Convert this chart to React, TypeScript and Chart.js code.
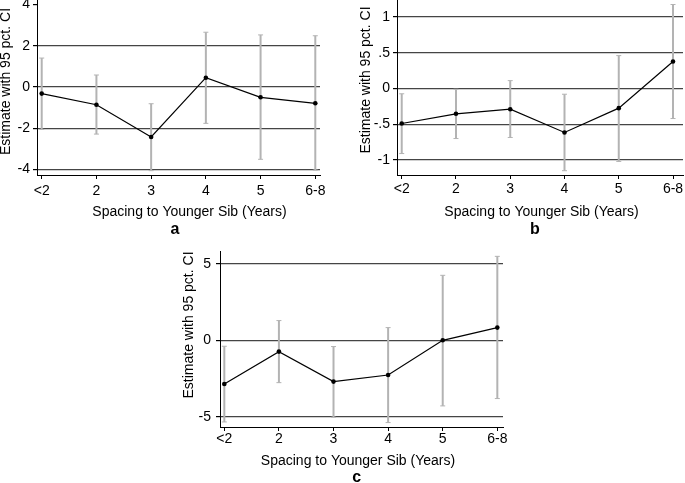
import { useEffect, useRef } from "react"
import { Chart, registerables } from "chart.js"

Chart.register(...registerables)

const FONT = "'Liberation Sans', Arial, Helvetica, sans-serif"
const GRID_COLOR = "#454545"
const ERR_COLOR = "#b3b3b3"

const categories = ["<2", "2", "3", "4", "5", "6-8"]

// panel a
const aEstimate = [-0.32, -0.86, -2.42, 0.45, -0.5, -0.79]
const aLower = [-2.05, -2.28, -4.05, -1.76, -3.5, -4.02]
const aUpper = [1.4, 0.58, -0.81, 2.65, 2.52, 2.48]
const aTicks = [-4, -2, 0, 2, 4]
const aTickLabels = ["-4", "-2", "0", "2", "4"]

// panel b
const bEstimate = [-0.49, -0.354, -0.29, -0.615, -0.275, 0.378]
const bLower = [-0.91, -0.7, -0.685, -1.15, -1.02, -0.42]
const bUpper = [-0.074, -0.01, 0.11, -0.08, 0.46, 1.175]
const bTicks = [-1, -0.5, 0, 0.5, 1]
const bTickLabels = ["-1", "-.5", "0", ".5", "1"]

// panel c
const cEstimate = [-2.86, -0.74, -2.7, -2.27, 0, 0.83]
const cLower = [-5.34, -2.77, -5.03, -5.38, -4.29, -3.81]
const cUpper = [-0.39, 1.29, -0.41, 0.83, 4.25, 5.49]
const cTicks = [-5, 0, 5]
const cTickLabels = ["-5", "0", "5"]

const Y_W = 40
const PAD_TOP = 16
const PAD_RIGHT = 14
const X_H = 66

interface PanelProps {
  letter: string
  estimate: number[]
  lower: number[]
  upper: number[]
  ticks: number[]
  tickLabels: string[]
  noGridAt?: number
  plot: { left: number; top: number; right: number; bottom: number }
  yRange: [number, number]
  xRange: [number, number]
  yTitleAt: [number, number]
  xTitleAt: [number, number]
  letterAt: [number, number]
  xTickPad: number
  yTickPad: number
}

function Panel(p: PanelProps) {
  const chartRef = useRef<HTMLCanvasElement>(null)
  const chartInstance = useRef<Chart | null>(null)

  const left = p.plot.left - Y_W
  const top = p.plot.top - PAD_TOP
  const width = p.plot.right - p.plot.left + Y_W + PAD_RIGHT
  const height = PAD_TOP + p.plot.bottom - p.plot.top + X_H

  useEffect(() => {
    if (!chartRef.current) return
    const ctx = chartRef.current.getContext("2d")
    if (!ctx) return

    if (chartInstance.current) {
      chartInstance.current.destroy()
    }

    // error bars under the line, titles and panel letter on top
    const extras = {
      id: "panelExtras",
      beforeDatasetsDraw(chart: any) {
        const c = chart.ctx
        const xs = chart.scales.x
        const ys = chart.scales.y
        c.save()
        c.strokeStyle = ERR_COLOR
        p.lower.forEach((lo, i) => {
          const px = xs.getPixelForValue(i)
          const y1 = ys.getPixelForValue(p.upper[i])
          const y2 = ys.getPixelForValue(lo)
          c.lineWidth = 2
          c.beginPath()
          c.moveTo(px, y1)
          c.lineTo(px, y2)
          c.stroke()
          c.lineWidth = 1
          c.beginPath()
          c.moveTo(px - 2.5, y1)
          c.lineTo(px + 2.5, y1)
          c.moveTo(px - 2.5, y2)
          c.lineTo(px + 2.5, y2)
          c.stroke()
        })
        c.restore()
      },
      afterDraw(chart: any) {
        const c = chart.ctx
        c.save()
        c.fillStyle = "#000"
        c.font = `14px ${FONT}`
        c.textAlign = "center"
        c.textBaseline = "middle"
        c.fillText("Spacing to Younger Sib (Years)", p.xTitleAt[0] - left, p.xTitleAt[1] - top)
        c.font = `bold 16px ${FONT}`
        c.fillText(p.letter, p.letterAt[0] - left, p.letterAt[1] - top)
        c.font = `14px ${FONT}`
        c.translate(p.yTitleAt[0] - left, p.yTitleAt[1] - top)
        c.rotate(-Math.PI / 2)
        c.textBaseline = "alphabetic"
        c.fillText("Estimate with 95 pct. CI", 0, 0)
        c.restore()
      },
    }

    chartInstance.current = new Chart(ctx, {
      type: "line",
      data: {
        datasets: [
          {
            data: p.estimate.map((v, i) => ({ x: i, y: v })),
            borderColor: "#000",
            borderWidth: 1.2,
            backgroundColor: "#000",
            pointRadius: 2.3,
            pointBorderWidth: 0,
            pointBackgroundColor: "#000",
            tension: 0,
            fill: false,
          },
        ],
      },
      options: {
        responsive: false,
        animation: false,
        layout: { padding: { top: PAD_TOP, right: PAD_RIGHT, bottom: 0, left: 0 } },
        plugins: {
          legend: { display: false },
          tooltip: { enabled: false },
        },
        scales: {
          x: {
            type: "linear",
            min: p.xRange[0],
            max: p.xRange[1],
            afterBuildTicks: (s: any) => {
              s.ticks = categories.map((_, i) => ({ value: i }))
            },
            afterFit: (s: any) => {
              s.height = X_H
            },
            grid: {
              drawOnChartArea: false,
              drawTicks: true,
              tickLength: 4,
              tickColor: "#000",
            },
            border: { display: true, color: "#000", width: 1 },
            ticks: {
              autoSkip: false,
              maxRotation: 0,
              padding: p.xTickPad,
              color: "#000",
              font: { family: FONT, size: 14 },
              callback: (_v: any, i: number) => categories[i],
            },
          },
          y: {
            type: "linear",
            min: p.yRange[0],
            max: p.yRange[1],
            afterBuildTicks: (s: any) => {
              s.ticks = p.ticks.map((v) => ({ value: v }))
            },
            afterFit: (s: any) => {
              s.width = Y_W
            },
            grid: {
              color: (c: any) =>
                c.tick && c.tick.value === p.noGridAt ? "rgba(0,0,0,0)" : GRID_COLOR,
              lineWidth: 1.2,
              drawTicks: true,
              tickLength: 4,
              tickColor: "#000",
            },
            border: { display: true, color: "#000", width: 1 },
            ticks: {
              padding: p.yTickPad,
              color: "#000",
              font: { family: FONT, size: 14 },
              callback: (_v: any, i: number) => p.tickLabels[i],
            },
          },
        },
      },
      plugins: [extras],
    } as any)

    return () => {
      if (chartInstance.current) {
        chartInstance.current.destroy()
        chartInstance.current = null
      }
    }
  }, [])

  return (
    <canvas
      ref={chartRef}
      width={width}
      height={height}
      style={{ position: "absolute", left, top, width, height }}
    />
  )
}

export default function App() {
  return (
    <div
      style={{
        position: "fixed",
        left: 0,
        top: 0,
        width: 685,
        height: 483,
        background: "#fff",
        overflow: "hidden",
      }}
    >
      <Panel
        letter="a"
        estimate={aEstimate}
        lower={aLower}
        upper={aUpper}
        ticks={aTicks}
        tickLabels={aTickLabels}
        noGridAt={4}
        plot={{ left: 37, top: 0, right: 320, bottom: 175 }}
        yRange={[-4.26, 4.21]}
        xRange={[-0.086, 5.086]}
        yTitleAt={[9.5, 81.5]}
        xTitleAt={[189.5, 211.7]}
        letterAt={[175, 230]}
        xTickPad={4}
        yTickPad={3}
      />
      <Panel
        letter="b"
        estimate={bEstimate}
        lower={bLower}
        upper={bUpper}
        ticks={bTicks}
        tickLabels={bTickLabels}
        plot={{ left: 397, top: 0, right: 683, bottom: 175 }}
        yRange={[-1.21, 1.238]}
        xRange={[-0.087, 5.184]}
        yTitleAt={[369.5, 80]}
        xTitleAt={[541.5, 211.7]}
        letterAt={[535, 230]}
        xTickPad={2}
        yTickPad={3}
      />
      <Panel
        letter="c"
        estimate={cEstimate}
        lower={cLower}
        upper={cUpper}
        ticks={cTicks}
        tickLabels={cTickLabels}
        plot={{ left: 220, top: 251, right: 503, bottom: 427 }}
        yRange={[-5.67, 5.84]}
        xRange={[-0.079, 5.104]}
        yTitleAt={[192.5, 325]}
        xTitleAt={[358, 460.7]}
        letterAt={[356.7, 477.3]}
        xTickPad={0}
        yTickPad={5}
      />
    </div>
  )
}
